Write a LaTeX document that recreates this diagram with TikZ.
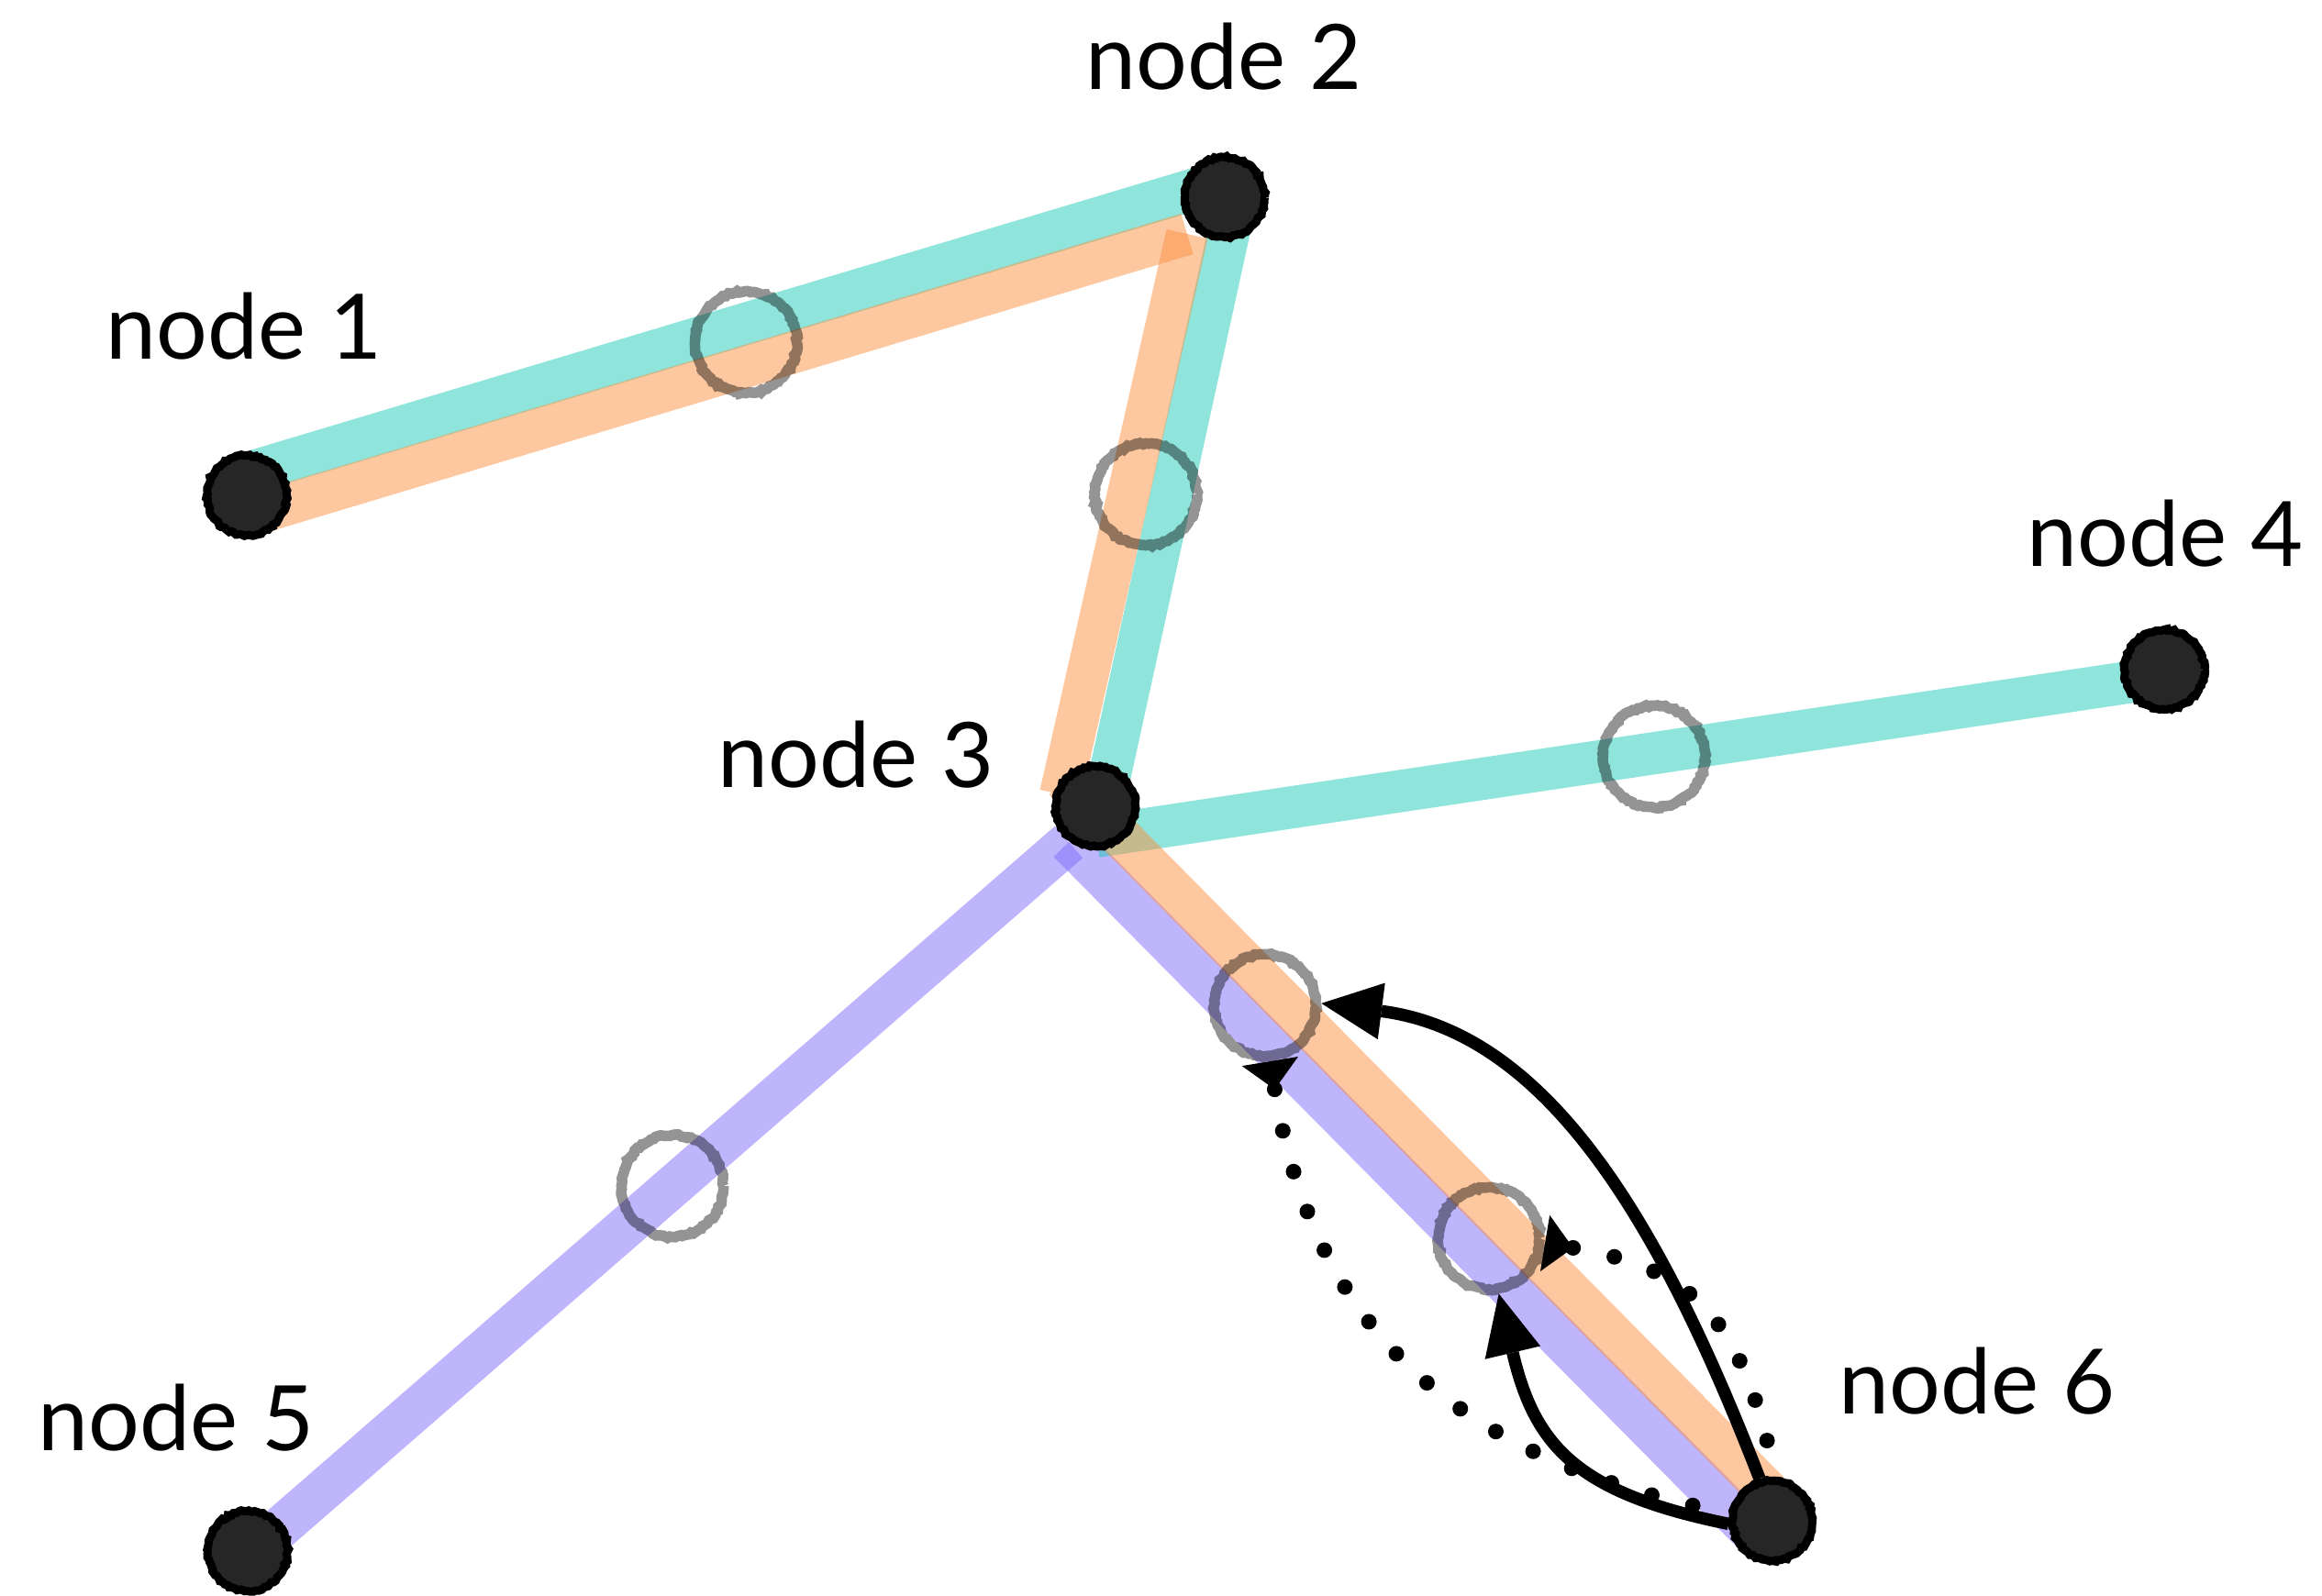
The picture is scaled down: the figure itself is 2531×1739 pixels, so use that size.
\documentclass[tikz,border=0pt]{standalone}
\usepackage{fontspec}
\setmainfont{Lato}
\usetikzlibrary{arrows.meta,decorations.pathmorphing}
\definecolor{routeteal}{RGB}{31,201,183}
\definecolor{routeorange}{RGB}{251,145,65}
\definecolor{routepurple}{RGB}{127,107,251}
\definecolor{stopfill}{RGB}{38,38,38}

\begin{document}
\begin{tikzpicture}[x=0.01cm, y=-0.01cm,
  band/.style={line width=0.46cm, draw opacity=0.5},
  tealband/.style={band, draw=routeteal},
  orangeband/.style={band, draw=routeorange},
  purpleband/.style={band, draw=routepurple},
  rough/.style={decorate, decoration={random steps, segment length=0.03cm, amplitude=0.012cm}},
  station/.style={circle, fill=stopfill, draw=black, line width=0.09cm,
    minimum size=0.87cm, inner sep=0pt, rough},
  marker/.style={circle, draw=black, draw opacity=0.42, line width=0.115cm,
    minimum size=1.11cm, inner sep=0pt, rough},
  stoplabel/.style={font=\fontsize{28}{34}\selectfont, inner sep=0pt, anchor=base},
  flow/.style={line width=0.135cm,
    -{Triangle[length=0.66cm, width=0.62cm, line width=0pt]}},
  dotflow/.style={line width=0.17cm, line cap=round, dash pattern=on 0pt off 0.46cm,
    {Triangle[reversed, length=0.31cm, width=0.62cm, line width=0pt]}-},
]
\useasboundingbox (0,0) rectangle (2531,1739);

% route corner points
\coordinate (t1) at (269,516);
\coordinate (t2) at (1353,191);
\coordinate (t3) at (1195,912);
\coordinate (t4) at (2359,738);
\coordinate (o1) at (269,563);
\coordinate (o2) at (1294,255);
\coordinate (o3a) at (1156,866);
\coordinate (o3) at (1160,850);
\coordinate (o4) at (1945,1644);
\coordinate (p1) at (276,1691);
\coordinate (p2) at (1165,918);
\coordinate (p3) at (1914,1675);

% routes, one segment at a time
\draw[purpleband] (p1) -- (p2);
\draw[purpleband] (p2) -- (p3);
\draw[tealband] (t1) -- (t2);
\draw[tealband] (t2) -- (t3);
\draw[tealband] (t3) -- (t4);
\draw[orangeband] (o1) -- (o2);
\draw[orangeband] (o2) -- (o3a);
\draw[orangeband] (o3) -- (o4);

% segment markers
\node[marker] (m12) at (813,373) {};
\node[marker] (m23) at (1249,539) {};
\node[marker] (m34) at (1803,825) {};
\node[marker] (m53) at (733,1293) {};
\node[marker] (m36a) at (1379,1096) {};
\node[marker] (m36b) at (1623,1350) {};

% stations
\node[station] (n1) at (269,540) {};
\node[station] (n2) at (1335,215) {};
\node[station] (n3) at (1194,879) {};
\node[station] (n4) at (2359,730) {};
\node[station] (n5) at (270,1691) {};
\node[station] (n6) at (1932,1658) {};

% flows out of node 6
\draw[flow] (n6.107) .. controls +(-108,-279) and +(247,32) .. (m36a.2);
\draw[flow] (n6.184) .. controls +(-167,-34) and +(39,165) .. (m36b.-80);
\draw[dotflow] (m36a.-85) .. controls +(49,296) and +(-294,-57) .. (n6.170);
\draw[dotflow] (m36b.-5) .. controls +(168,28) and +(-36,-167) .. (n6.86);

% labels
\node[stoplabel] (l1) at (266,391) {node 1};
\node[stoplabel] (l2) at (1334,97) {node 2};
\node[stoplabel] (l3) at (933,858) {node 3};
\node[stoplabel] (l4) at (2360,617) {node 4};
\node[stoplabel] (l5) at (192,1581) {node 5};
\node[stoplabel] (l6) at (2155,1541) {node 6};
\end{tikzpicture}
\end{document}
